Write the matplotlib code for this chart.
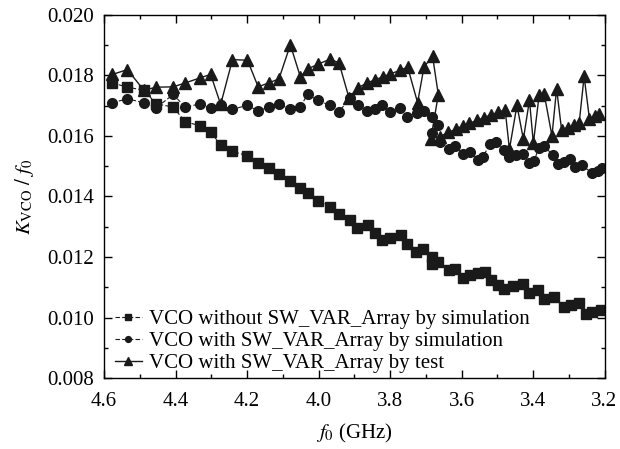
import matplotlib
matplotlib.use("Agg")
import matplotlib.pyplot as plt
from matplotlib.ticker import MultipleLocator

plt.rcParams['font.family'] = ['Liberation Serif', 'DejaVu Serif']
plt.rcParams['mathtext.fontset'] = 'stix'

# VCO without SW_VAR_Array by simulation (squares)
f_sq = [4.577, 4.535, 4.489, 4.454, 4.407, 4.373, 4.331, 4.302, 4.274, 4.241,
        4.199, 4.169, 4.140, 4.111, 4.079, 4.051, 4.031, 4.003, 3.969, 3.943,
        3.913, 3.892, 3.862, 3.841, 3.822, 3.799, 3.769, 3.753, 3.727, 3.707,
        3.683, 3.683, 3.665, 3.634, 3.619, 3.595, 3.575, 3.554, 3.535, 3.517,
        3.498, 3.480, 3.457, 3.429, 3.410, 3.387, 3.369, 3.341, 3.313, 3.294,
        3.271, 3.253, 3.234, 3.211]
k_sq = [0.01775, 0.01761, 0.01751, 0.01706, 0.01695, 0.01647, 0.01633, 0.01614, 0.01569, 0.01549,
        0.01534, 0.01512, 0.01493, 0.01473, 0.01451, 0.01429, 0.01410, 0.01386, 0.01366, 0.01342,
        0.01323, 0.01296, 0.01306, 0.01280, 0.01257, 0.01262, 0.01271, 0.01243, 0.01218, 0.01225,
        0.01200, 0.01178, 0.01185, 0.01156, 0.01159, 0.01131, 0.01141, 0.01147, 0.01150, 0.01123,
        0.01108, 0.01095, 0.01103, 0.01112, 0.01082, 0.01090, 0.01060, 0.01068, 0.01035, 0.01041,
        0.01049, 0.01013, 0.01019, 0.01024]

# VCO with SW_VAR_Array by simulation (circles)
f_ci = [4.577, 4.535, 4.489, 4.454, 4.407, 4.373, 4.331, 4.302, 4.274, 4.241,
        4.199, 4.169, 4.140, 4.111, 4.079, 4.051, 4.031, 4.003, 3.969, 3.943,
        3.913, 3.890, 3.864, 3.841, 3.822, 3.799, 3.771, 3.753, 3.725, 3.705,
        3.683, 3.665, 3.683, 3.660, 3.634, 3.617, 3.595, 3.577, 3.555, 3.541,
        3.521, 3.503, 3.480, 3.466, 3.447, 3.429, 3.410, 3.397, 3.384, 3.369,
        3.345, 3.331, 3.313, 3.297, 3.282, 3.264, 3.234, 3.218, 3.207]
k_ci = [0.01709, 0.01723, 0.01709, 0.01693, 0.01737, 0.01695, 0.01706, 0.01691, 0.01701, 0.01688,
        0.01701, 0.01682, 0.01695, 0.01704, 0.01688, 0.01696, 0.01737, 0.01718, 0.01701, 0.01680,
        0.01724, 0.01701, 0.01682, 0.01690, 0.01701, 0.01679, 0.01691, 0.01663, 0.01677, 0.01683,
        0.01662, 0.01636, 0.01610, 0.01580, 0.01557, 0.01565, 0.01541, 0.01547, 0.01522, 0.01529,
        0.01572, 0.01579, 0.01552, 0.01529, 0.01536, 0.01539, 0.01510, 0.01517, 0.01560, 0.01568,
        0.01536, 0.01507, 0.01514, 0.01523, 0.01496, 0.01503, 0.01477, 0.01485, 0.01493]

# VCO with SW_VAR_Array by test (triangles)
f_tr = [4.577, 4.535, 4.489, 4.454, 4.407, 4.373, 4.331, 4.302, 4.274, 4.241,
        4.199, 4.169, 4.140, 4.111, 4.079, 4.051, 4.031, 4.003, 3.969, 3.943,
        3.915, 3.890, 3.864, 3.841, 3.820, 3.799, 3.771, 3.751, 3.723, 3.705,
        3.681, 3.665, 3.686, 3.660, 3.637, 3.616, 3.597, 3.578, 3.557, 3.538,
        3.518, 3.498, 3.478, 3.466, 3.445, 3.427, 3.410, 3.399, 3.383, 3.369,
        3.347, 3.334, 3.320, 3.301, 3.285, 3.271, 3.257, 3.242, 3.227, 3.216]
k_tr = [0.01803, 0.01819, 0.01751, 0.01761, 0.01762, 0.01775, 0.01792, 0.01803, 0.01704, 0.01852,
        0.01850, 0.01762, 0.01775, 0.01788, 0.01901, 0.01795, 0.01821, 0.01836, 0.01853, 0.01842,
        0.01726, 0.01759, 0.01775, 0.01786, 0.01795, 0.01805, 0.01817, 0.01828, 0.01710, 0.01828,
        0.01863, 0.01736, 0.01590, 0.01598, 0.01612, 0.01622, 0.01633, 0.01642, 0.01651, 0.01660,
        0.01669, 0.01678, 0.01686, 0.01556, 0.01701, 0.01589, 0.01718, 0.01576, 0.01734, 0.01740,
        0.01600, 0.01756, 0.01619, 0.01627, 0.01635, 0.01641, 0.01797, 0.01655, 0.01666, 0.01671]

labels = ["VCO without SW_VAR_Array by simulation",
          "VCO with SW_VAR_Array by simulation",
          "VCO with SW_VAR_Array by test"]

fig = plt.figure(figsize=(6.2, 4.49), dpi=100)
ax = fig.add_axes([0.168, 0.158, 0.807, 0.809])

c = "#1a1a1a"
ax.plot(f_sq, k_sq, ls=(0, (4, 2)), lw=0.8, color=c, marker="s", ms=6.5, label=labels[0])
ax.plot(f_ci, k_ci, ls=(0, (4, 2)), lw=0.8, color=c, marker="o", ms=7, label=labels[1])
ax.plot(f_tr, k_tr, ls="-", lw=1.0, color=c, marker="^", ms=8.5, label=labels[2])

ax.set_xlim(4.6, 3.2)
ax.set_ylim(0.008, 0.020)
ax.xaxis.set_major_locator(MultipleLocator(0.2))
ax.xaxis.set_minor_locator(MultipleLocator(0.1))
ax.yaxis.set_major_locator(MultipleLocator(0.002))
ax.yaxis.set_minor_locator(MultipleLocator(0.001))
ax.xaxis.set_major_formatter(plt.FuncFormatter(lambda v, p: f"{v:.1f}"))
ax.yaxis.set_major_formatter(plt.FuncFormatter(lambda v, p: f"{v:.3f}"))
ax.tick_params(which="both", direction="in", top=True, right=True, labelsize=15, width=1)
ax.tick_params(axis="x", pad=10)
ax.tick_params(axis="y", pad=7)
ax.tick_params(which="major", length=6)
ax.tick_params(which="minor", length=3)
for s in ax.spines.values():
    s.set_linewidth(1.0)

ax.set_xlabel(r"$f_0$ (GHz)", fontsize=15, labelpad=8)
ax.set_ylabel(r"$K_{\mathrm{VCO}}\ /\ f_0$", fontsize=15, labelpad=8)

leg = ax.legend(loc="lower left", frameon=False, fontsize=15, markerscale=0.6,
                handlelength=1.3, handletextpad=0.35, labelspacing=0.12,
                borderaxespad=0.1, bbox_to_anchor=(0.0, -0.015))

fig.savefig("out.png", dpi=100)
